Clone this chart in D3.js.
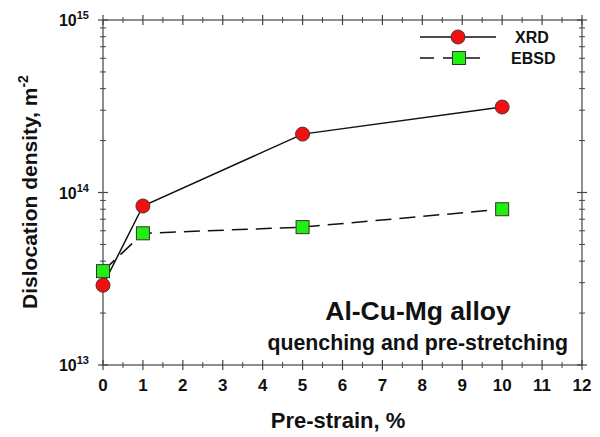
<!DOCTYPE html>
<html>
<style type="text/css">
body { margin: 0; background: #fff; }
text { font-family: "Liberation Sans", Arial, sans-serif; font-weight: bold; fill: #111; }
</style>
<body>
<script src="https://d3js.org/d3.v7.min.js"></script>
<script>
// data
var strain = [0, 1, 5, 10];
var xrd = [2.9e13, 8.35e13, 2.18e14, 3.13e14];
var ebsd = [3.5e13, 5.8e13, 6.3e13, 8.0e13];
var xTicks = [0, 1, 2, 3, 4, 5, 6, 7, 8, 9, 10, 11, 12];
var yDecades = [1e13, 1e14, 1e15];
var yExp = ["13", "14", "15"];

var W = 600, H = 437;
var pl = 103, pr = 582, pt = 20, pb = 365;

var svg = d3.select("body").append("svg")
    .attr("width", W).attr("height", H);

var x = d3.scaleLinear().domain([0, 12]).range([pl, pr]);
var y = d3.scaleLog().domain([1e13, 1e15]).range([pb, pt]);

var axisCol = "#444";

// frame
svg.append("rect")
    .attr("x", pl).attr("y", pt)
    .attr("width", pr - pl).attr("height", pb - pt)
    .attr("fill", "none").attr("stroke", axisCol).attr("stroke-width", 1.2);

// x ticks (crossing bottom and top)
var xMinor = d3.range(0.5, 12, 1);
[pb, pt].forEach(function(yy) {
  svg.selectAll(null).data(xTicks).enter().append("line")
      .attr("x1", d => x(d)).attr("x2", d => x(d))
      .attr("y1", yy - 5).attr("y2", yy + 5)
      .attr("stroke", axisCol).attr("stroke-width", 1.2);
  svg.selectAll(null).data(xMinor).enter().append("line")
      .attr("x1", d => x(d)).attr("x2", d => x(d))
      .attr("y1", yy - 3).attr("y2", yy + 3)
      .attr("stroke", axisCol).attr("stroke-width", 1);
});

// y ticks (crossing left and right)
var yMinor = [];
[1e13, 1e14].forEach(function(b) {
  for (var k = 2; k <= 9; k++) yMinor.push(b * k);
});
[pl, pr].forEach(function(xx) {
  svg.selectAll(null).data(yDecades).enter().append("line")
      .attr("x1", xx - 5).attr("x2", xx + 5)
      .attr("y1", d => y(d)).attr("y2", d => y(d))
      .attr("stroke", axisCol).attr("stroke-width", 1.2);
  svg.selectAll(null).data(yMinor).enter().append("line")
      .attr("x1", xx - 3).attr("x2", xx + 3)
      .attr("y1", d => y(d)).attr("y2", d => y(d))
      .attr("stroke", axisCol).attr("stroke-width", 1);
});

// x tick labels
svg.selectAll(null).data(xTicks).enter().append("text")
    .attr("x", d => x(d)).attr("y", pb + 26)
    .attr("text-anchor", "middle").attr("font-size", 17)
    .text(d => d);

// y tick labels with superscripts
var yl = svg.selectAll(null).data(yDecades).enter().append("text")
    .attr("x", pl - 14).attr("y", d => y(d) + 6)
    .attr("text-anchor", "end").attr("font-size", 16);
yl.append("tspan").text("10");
yl.append("tspan").attr("dy", -7).attr("font-size", 11).text((d, i) => yExp[i]);

// axis titles
svg.append("text")
    .attr("x", 338).attr("y", 428)
    .attr("text-anchor", "middle").attr("font-size", 22)
    .text("Pre-strain, %");

var yt = svg.append("text")
    .attr("transform", "translate(37,192) rotate(-90)")
    .attr("text-anchor", "middle").attr("font-size", 21);
yt.append("tspan").text("Dislocation density, m");
yt.append("tspan").attr("dy", -9).attr("font-size", 14).text("-2");

// series lines
var line = d3.line().x((d, i) => x(strain[i])).y(d => y(d));
svg.append("path").datum(xrd).attr("d", line)
    .attr("fill", "none").attr("stroke", "#111").attr("stroke-width", 1.5);
svg.append("path").datum(ebsd).attr("d", line)
    .attr("fill", "none").attr("stroke", "#111").attr("stroke-width", 1.5)
    .attr("stroke-dasharray", "16,8");

// markers
svg.selectAll(null).data(ebsd).enter().append("rect")
    .attr("x", (d, i) => x(strain[i]) - 6.5).attr("y", d => y(d) - 6.5)
    .attr("width", 13).attr("height", 13)
    .attr("fill", "#22ee11").attr("stroke", "#333").attr("stroke-width", 1);
svg.selectAll(null).data(xrd).enter().append("circle")
    .attr("cx", (d, i) => x(strain[i])).attr("cy", d => y(d))
    .attr("r", 7)
    .attr("fill", "#f01010").attr("stroke", "#533").attr("stroke-width", 1);

// legend
svg.append("line").attr("x1", 420).attr("x2", 496).attr("y1", 37).attr("y2", 37)
    .attr("stroke", "#111").attr("stroke-width", 1.5);
svg.append("circle").attr("cx", 458).attr("cy", 37).attr("r", 7)
    .attr("fill", "#f01010").attr("stroke", "#533");
svg.append("text").attr("x", 515).attr("y", 43).attr("font-size", 16).text("XRD");

svg.append("line").attr("x1", 420).attr("x2", 489).attr("y1", 58).attr("y2", 58)
    .attr("stroke", "#111").attr("stroke-width", 1.5)
    .attr("stroke-dasharray", "14,9");
svg.append("rect").attr("x", 452.5).attr("y", 51.5).attr("width", 13).attr("height", 13)
    .attr("fill", "#22ee11").attr("stroke", "#333");
svg.append("text").attr("x", 511).attr("y", 64).attr("font-size", 16).text("EBSD");

// annotation
svg.append("text").attr("x", 418).attr("y", 320)
    .attr("text-anchor", "middle").attr("font-size", 26.5)
    .text("Al-Cu-Mg alloy");
svg.append("text").attr("x", 568).attr("y", 350)
    .attr("text-anchor", "end").attr("font-size", 21.3)
    .text("quenching and pre-stretching");
</script>
</body>
</html>
